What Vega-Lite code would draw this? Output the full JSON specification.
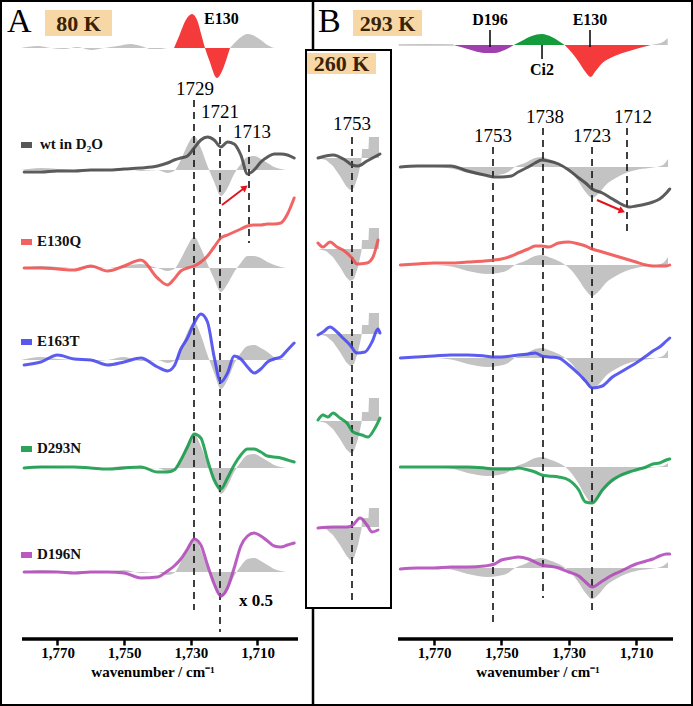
{
"$schema":"https://vega.github.io/schema/vega-lite/v6.json",
"width":693,"height":706,"autosize":"none","padding":0,"background":"white",
"config":{"view":{"stroke":"#000","strokeWidth":4}},
"datasets":{
"aLines":[
{"s":"wt","wn":1780,"v":-1.72},{"s":"wt","wn":1775,"v":-1.72},{"s":"wt","wn":1770,"v":-1.71},{"s":"wt","wn":1765,"v":-1.71},{"s":"wt","wn":1760,"v":-1.70},{"s":"wt","wn":1755,"v":-1.70},{"s":"wt","wn":1750,"v":-1.69},{"s":"wt","wn":1745,"v":-1.68},{"s":"wt","wn":1740,"v":-1.66},{"s":"wt","wn":1737,"v":-1.63},{"s":"wt","wn":1735,"v":-1.60},{"s":"wt","wn":1733,"v":-1.58},{"s":"wt","wn":1731,"v":-1.56},{"s":"wt","wn":1729,"v":-1.48},{"s":"wt","wn":1727,"v":-1.40},{"s":"wt","wn":1725,"v":-1.37},{"s":"wt","wn":1723,"v":-1.40},{"s":"wt","wn":1721,"v":-1.47},{"s":"wt","wn":1719,"v":-1.42},{"s":"wt","wn":1717,"v":-1.44},{"s":"wt","wn":1715,"v":-1.55},{"s":"wt","wn":1713,"v":-1.74},{"s":"wt","wn":1711,"v":-1.70},{"s":"wt","wn":1709,"v":-1.62},{"s":"wt","wn":1707,"v":-1.57},{"s":"wt","wn":1705,"v":-1.54},{"s":"wt","wn":1703,"v":-1.54},{"s":"wt","wn":1701,"v":-1.55},{"s":"wt","wn":1699,"v":-1.58},
{"s":"E130Q","wn":1780,"v":-2.68},{"s":"E130Q","wn":1775,"v":-2.68},{"s":"E130Q","wn":1770,"v":-2.69},{"s":"E130Q","wn":1765,"v":-2.70},{"s":"E130Q","wn":1760,"v":-2.66},{"s":"E130Q","wn":1755,"v":-2.71},{"s":"E130Q","wn":1750,"v":-2.66},{"s":"E130Q","wn":1745,"v":-2.60},{"s":"E130Q","wn":1740,"v":-2.78},{"s":"E130Q","wn":1737,"v":-2.85},{"s":"E130Q","wn":1735,"v":-2.79},{"s":"E130Q","wn":1733,"v":-2.71},{"s":"E130Q","wn":1731,"v":-2.68},{"s":"E130Q","wn":1729,"v":-2.66},{"s":"E130Q","wn":1727,"v":-2.62},{"s":"E130Q","wn":1725,"v":-2.56},{"s":"E130Q","wn":1723,"v":-2.47},{"s":"E130Q","wn":1721,"v":-2.38},{"s":"E130Q","wn":1719,"v":-2.35},{"s":"E130Q","wn":1717,"v":-2.32},{"s":"E130Q","wn":1715,"v":-2.29},{"s":"E130Q","wn":1713,"v":-2.26},{"s":"E130Q","wn":1711,"v":-2.25},{"s":"E130Q","wn":1709,"v":-2.25},{"s":"E130Q","wn":1707,"v":-2.24},{"s":"E130Q","wn":1705,"v":-2.24},{"s":"E130Q","wn":1703,"v":-2.23},{"s":"E130Q","wn":1701,"v":-2.14},{"s":"E130Q","wn":1699,"v":-1.98},
{"s":"E163T","wn":1780,"v":-3.65},{"s":"E163T","wn":1775,"v":-3.62},{"s":"E163T","wn":1770,"v":-3.55},{"s":"E163T","wn":1765,"v":-3.59},{"s":"E163T","wn":1760,"v":-3.60},{"s":"E163T","wn":1755,"v":-3.65},{"s":"E163T","wn":1750,"v":-3.62},{"s":"E163T","wn":1745,"v":-3.58},{"s":"E163T","wn":1740,"v":-3.67},{"s":"E163T","wn":1737,"v":-3.71},{"s":"E163T","wn":1735,"v":-3.66},{"s":"E163T","wn":1733,"v":-3.49},{"s":"E163T","wn":1731,"v":-3.38},{"s":"E163T","wn":1729,"v":-3.23},{"s":"E163T","wn":1727,"v":-3.14},{"s":"E163T","wn":1725,"v":-3.22},{"s":"E163T","wn":1723,"v":-3.57},{"s":"E163T","wn":1721,"v":-3.82},{"s":"E163T","wn":1719,"v":-3.73},{"s":"E163T","wn":1717,"v":-3.56},{"s":"E163T","wn":1715,"v":-3.59},{"s":"E163T","wn":1713,"v":-3.67},{"s":"E163T","wn":1711,"v":-3.73},{"s":"E163T","wn":1709,"v":-3.69},{"s":"E163T","wn":1707,"v":-3.62},{"s":"E163T","wn":1705,"v":-3.59},{"s":"E163T","wn":1703,"v":-3.57},{"s":"E163T","wn":1701,"v":-3.50},{"s":"E163T","wn":1699,"v":-3.43},
{"s":"D293N","wn":1780,"v":-4.68},{"s":"D293N","wn":1775,"v":-4.67},{"s":"D293N","wn":1770,"v":-4.67},{"s":"D293N","wn":1765,"v":-4.67},{"s":"D293N","wn":1760,"v":-4.68},{"s":"D293N","wn":1755,"v":-4.69},{"s":"D293N","wn":1750,"v":-4.68},{"s":"D293N","wn":1745,"v":-4.67},{"s":"D293N","wn":1740,"v":-4.72},{"s":"D293N","wn":1737,"v":-4.72},{"s":"D293N","wn":1735,"v":-4.70},{"s":"D293N","wn":1733,"v":-4.60},{"s":"D293N","wn":1731,"v":-4.47},{"s":"D293N","wn":1729,"v":-4.34},{"s":"D293N","wn":1727,"v":-4.38},{"s":"D293N","wn":1725,"v":-4.60},{"s":"D293N","wn":1723,"v":-4.80},{"s":"D293N","wn":1721,"v":-4.89},{"s":"D293N","wn":1719,"v":-4.78},{"s":"D293N","wn":1717,"v":-4.65},{"s":"D293N","wn":1715,"v":-4.55},{"s":"D293N","wn":1713,"v":-4.49},{"s":"D293N","wn":1711,"v":-4.49},{"s":"D293N","wn":1709,"v":-4.52},{"s":"D293N","wn":1707,"v":-4.56},{"s":"D293N","wn":1705,"v":-4.57},{"s":"D293N","wn":1703,"v":-4.58},{"s":"D293N","wn":1701,"v":-4.60},{"s":"D293N","wn":1699,"v":-4.62},
{"s":"D196N","wn":1780,"v":-5.72},{"s":"D196N","wn":1775,"v":-5.72},{"s":"D196N","wn":1770,"v":-5.72},{"s":"D196N","wn":1765,"v":-5.73},{"s":"D196N","wn":1760,"v":-5.72},{"s":"D196N","wn":1755,"v":-5.72},{"s":"D196N","wn":1750,"v":-5.73},{"s":"D196N","wn":1745,"v":-5.78},{"s":"D196N","wn":1740,"v":-5.77},{"s":"D196N","wn":1737,"v":-5.71},{"s":"D196N","wn":1735,"v":-5.66},{"s":"D196N","wn":1733,"v":-5.59},{"s":"D196N","wn":1731,"v":-5.49},{"s":"D196N","wn":1729,"v":-5.39},{"s":"D196N","wn":1727,"v":-5.45},{"s":"D196N","wn":1725,"v":-5.65},{"s":"D196N","wn":1723,"v":-5.84},{"s":"D196N","wn":1721,"v":-5.96},{"s":"D196N","wn":1719,"v":-5.88},{"s":"D196N","wn":1717,"v":-5.68},{"s":"D196N","wn":1715,"v":-5.46},{"s":"D196N","wn":1713,"v":-5.36},{"s":"D196N","wn":1711,"v":-5.33},{"s":"D196N","wn":1709,"v":-5.36},{"s":"D196N","wn":1707,"v":-5.41},{"s":"D196N","wn":1705,"v":-5.46},{"s":"D196N","wn":1703,"v":-5.47},{"s":"D196N","wn":1701,"v":-5.45},{"s":"D196N","wn":1699,"v":-5.43}
],
"aGray":[
{"s":"wt","wn":1781,"v":-1.70,"b":-1.70},{"s":"wt","wn":1775,"v":-1.68,"b":-1.70},{"s":"wt","wn":1770,"v":-1.69,"b":-1.70},{"s":"wt","wn":1765,"v":-1.70,"b":-1.70},{"s":"wt","wn":1760,"v":-1.71,"b":-1.70},{"s":"wt","wn":1755,"v":-1.70,"b":-1.70},{"s":"wt","wn":1750,"v":-1.68,"b":-1.70},{"s":"wt","wn":1745,"v":-1.71,"b":-1.70},{"s":"wt","wn":1740,"v":-1.70,"b":-1.70},{"s":"wt","wn":1737,"v":-1.73,"b":-1.70},{"s":"wt","wn":1735,"v":-1.71,"b":-1.70},{"s":"wt","wn":1733,"v":-1.60,"b":-1.70},{"s":"wt","wn":1731,"v":-1.45,"b":-1.70},{"s":"wt","wn":1729,"v":-1.36,"b":-1.70},{"s":"wt","wn":1727,"v":-1.48,"b":-1.70},{"s":"wt","wn":1725,"v":-1.66,"b":-1.70},{"s":"wt","wn":1723,"v":-1.82,"b":-1.70},{"s":"wt","wn":1721,"v":-1.96,"b":-1.70},{"s":"wt","wn":1719,"v":-1.88,"b":-1.70},{"s":"wt","wn":1717,"v":-1.74,"b":-1.70},{"s":"wt","wn":1715,"v":-1.64,"b":-1.70},{"s":"wt","wn":1713,"v":-1.57,"b":-1.70},{"s":"wt","wn":1711,"v":-1.56,"b":-1.70},{"s":"wt","wn":1709,"v":-1.59,"b":-1.70},{"s":"wt","wn":1707,"v":-1.63,"b":-1.70},{"s":"wt","wn":1705,"v":-1.67,"b":-1.70},{"s":"wt","wn":1703,"v":-1.69,"b":-1.70},{"s":"wt","wn":1701,"v":-1.70,"b":-1.70},{"s":"wt","wn":1699,"v":-1.70,"b":-1.70},
{"s":"E130Q","wn":1781,"v":-2.68,"b":-2.68},{"s":"E130Q","wn":1775,"v":-2.66,"b":-2.68},{"s":"E130Q","wn":1770,"v":-2.67,"b":-2.68},{"s":"E130Q","wn":1765,"v":-2.68,"b":-2.68},{"s":"E130Q","wn":1760,"v":-2.66,"b":-2.68},{"s":"E130Q","wn":1755,"v":-2.68,"b":-2.68},{"s":"E130Q","wn":1750,"v":-2.66,"b":-2.68},{"s":"E130Q","wn":1745,"v":-2.64,"b":-2.68},{"s":"E130Q","wn":1740,"v":-2.68,"b":-2.68},{"s":"E130Q","wn":1737,"v":-2.71,"b":-2.68},{"s":"E130Q","wn":1735,"v":-2.69,"b":-2.68},{"s":"E130Q","wn":1733,"v":-2.59,"b":-2.68},{"s":"E130Q","wn":1731,"v":-2.46,"b":-2.68},{"s":"E130Q","wn":1729,"v":-2.37,"b":-2.68},{"s":"E130Q","wn":1727,"v":-2.48,"b":-2.68},{"s":"E130Q","wn":1725,"v":-2.64,"b":-2.68},{"s":"E130Q","wn":1723,"v":-2.79,"b":-2.68},{"s":"E130Q","wn":1721,"v":-2.92,"b":-2.68},{"s":"E130Q","wn":1719,"v":-2.84,"b":-2.68},{"s":"E130Q","wn":1717,"v":-2.72,"b":-2.68},{"s":"E130Q","wn":1715,"v":-2.63,"b":-2.68},{"s":"E130Q","wn":1713,"v":-2.56,"b":-2.68},{"s":"E130Q","wn":1711,"v":-2.56,"b":-2.68},{"s":"E130Q","wn":1709,"v":-2.58,"b":-2.68},{"s":"E130Q","wn":1707,"v":-2.62,"b":-2.68},{"s":"E130Q","wn":1705,"v":-2.65,"b":-2.68},{"s":"E130Q","wn":1703,"v":-2.67,"b":-2.68},{"s":"E130Q","wn":1701,"v":-2.68,"b":-2.68},{"s":"E130Q","wn":1699,"v":-2.68,"b":-2.68},
{"s":"E163T","wn":1781,"v":-3.60,"b":-3.60},{"s":"E163T","wn":1775,"v":-3.57,"b":-3.60},{"s":"E163T","wn":1770,"v":-3.59,"b":-3.60},{"s":"E163T","wn":1765,"v":-3.60,"b":-3.60},{"s":"E163T","wn":1760,"v":-3.61,"b":-3.60},{"s":"E163T","wn":1755,"v":-3.60,"b":-3.60},{"s":"E163T","wn":1750,"v":-3.57,"b":-3.60},{"s":"E163T","wn":1745,"v":-3.61,"b":-3.60},{"s":"E163T","wn":1740,"v":-3.60,"b":-3.60},{"s":"E163T","wn":1737,"v":-3.63,"b":-3.60},{"s":"E163T","wn":1735,"v":-3.61,"b":-3.60},{"s":"E163T","wn":1733,"v":-3.49,"b":-3.60},{"s":"E163T","wn":1731,"v":-3.32,"b":-3.60},{"s":"E163T","wn":1729,"v":-3.22,"b":-3.60},{"s":"E163T","wn":1727,"v":-3.35,"b":-3.60},{"s":"E163T","wn":1725,"v":-3.55,"b":-3.60},{"s":"E163T","wn":1723,"v":-3.73,"b":-3.60},{"s":"E163T","wn":1721,"v":-3.89,"b":-3.60},{"s":"E163T","wn":1719,"v":-3.80,"b":-3.60},{"s":"E163T","wn":1717,"v":-3.64,"b":-3.60},{"s":"E163T","wn":1715,"v":-3.53,"b":-3.60},{"s":"E163T","wn":1713,"v":-3.46,"b":-3.60},{"s":"E163T","wn":1711,"v":-3.45,"b":-3.60},{"s":"E163T","wn":1709,"v":-3.48,"b":-3.60},{"s":"E163T","wn":1707,"v":-3.52,"b":-3.60},{"s":"E163T","wn":1705,"v":-3.57,"b":-3.60},{"s":"E163T","wn":1703,"v":-3.59,"b":-3.60},{"s":"E163T","wn":1701,"v":-3.60,"b":-3.60},{"s":"E163T","wn":1699,"v":-3.60,"b":-3.60},
{"s":"D293N","wn":1781,"v":-4.68,"b":-4.68},{"s":"D293N","wn":1775,"v":-4.66,"b":-4.68},{"s":"D293N","wn":1770,"v":-4.67,"b":-4.68},{"s":"D293N","wn":1765,"v":-4.68,"b":-4.68},{"s":"D293N","wn":1760,"v":-4.69,"b":-4.68},{"s":"D293N","wn":1755,"v":-4.68,"b":-4.68},{"s":"D293N","wn":1750,"v":-4.66,"b":-4.68},{"s":"D293N","wn":1745,"v":-4.69,"b":-4.68},{"s":"D293N","wn":1740,"v":-4.68,"b":-4.68},{"s":"D293N","wn":1737,"v":-4.71,"b":-4.68},{"s":"D293N","wn":1735,"v":-4.69,"b":-4.68},{"s":"D293N","wn":1733,"v":-4.58,"b":-4.68},{"s":"D293N","wn":1731,"v":-4.43,"b":-4.68},{"s":"D293N","wn":1729,"v":-4.34,"b":-4.68},{"s":"D293N","wn":1727,"v":-4.46,"b":-4.68},{"s":"D293N","wn":1725,"v":-4.64,"b":-4.68},{"s":"D293N","wn":1723,"v":-4.80,"b":-4.68},{"s":"D293N","wn":1721,"v":-4.94,"b":-4.68},{"s":"D293N","wn":1719,"v":-4.86,"b":-4.68},{"s":"D293N","wn":1717,"v":-4.72,"b":-4.68},{"s":"D293N","wn":1715,"v":-4.62,"b":-4.68},{"s":"D293N","wn":1713,"v":-4.55,"b":-4.68},{"s":"D293N","wn":1711,"v":-4.54,"b":-4.68},{"s":"D293N","wn":1709,"v":-4.57,"b":-4.68},{"s":"D293N","wn":1707,"v":-4.61,"b":-4.68},{"s":"D293N","wn":1705,"v":-4.65,"b":-4.68},{"s":"D293N","wn":1703,"v":-4.67,"b":-4.68},{"s":"D293N","wn":1701,"v":-4.68,"b":-4.68},{"s":"D293N","wn":1699,"v":-4.68,"b":-4.68},
{"s":"D196N","wn":1781,"v":-5.72,"b":-5.72},{"s":"D196N","wn":1775,"v":-5.70,"b":-5.72},{"s":"D196N","wn":1770,"v":-5.71,"b":-5.72},{"s":"D196N","wn":1765,"v":-5.72,"b":-5.72},{"s":"D196N","wn":1760,"v":-5.73,"b":-5.72},{"s":"D196N","wn":1755,"v":-5.72,"b":-5.72},{"s":"D196N","wn":1750,"v":-5.70,"b":-5.72},{"s":"D196N","wn":1745,"v":-5.73,"b":-5.72},{"s":"D196N","wn":1740,"v":-5.72,"b":-5.72},{"s":"D196N","wn":1737,"v":-5.75,"b":-5.72},{"s":"D196N","wn":1735,"v":-5.73,"b":-5.72},{"s":"D196N","wn":1733,"v":-5.62,"b":-5.72},{"s":"D196N","wn":1731,"v":-5.47,"b":-5.72},{"s":"D196N","wn":1729,"v":-5.38,"b":-5.72},{"s":"D196N","wn":1727,"v":-5.50,"b":-5.72},{"s":"D196N","wn":1725,"v":-5.68,"b":-5.72},{"s":"D196N","wn":1723,"v":-5.84,"b":-5.72},{"s":"D196N","wn":1721,"v":-5.98,"b":-5.72},{"s":"D196N","wn":1719,"v":-5.90,"b":-5.72},{"s":"D196N","wn":1717,"v":-5.76,"b":-5.72},{"s":"D196N","wn":1715,"v":-5.66,"b":-5.72},{"s":"D196N","wn":1713,"v":-5.59,"b":-5.72},{"s":"D196N","wn":1711,"v":-5.58,"b":-5.72},{"s":"D196N","wn":1709,"v":-5.61,"b":-5.72},{"s":"D196N","wn":1707,"v":-5.65,"b":-5.72},{"s":"D196N","wn":1705,"v":-5.69,"b":-5.72},{"s":"D196N","wn":1703,"v":-5.71,"b":-5.72},{"s":"D196N","wn":1701,"v":-5.72,"b":-5.72},{"s":"D196N","wn":1699,"v":-5.72,"b":-5.72},
{"s":"refL","wn":1781,"v":-0.48,"b":-0.48},{"s":"refL","wn":1776,"v":-0.46,"b":-0.48},{"s":"refL","wn":1772,"v":-0.48,"b":-0.48},{"s":"refL","wn":1768,"v":-0.49,"b":-0.48},{"s":"refL","wn":1764,"v":-0.47,"b":-0.48},{"s":"refL","wn":1760,"v":-0.50,"b":-0.48},{"s":"refL","wn":1756,"v":-0.48,"b":-0.48},{"s":"refL","wn":1752,"v":-0.46,"b":-0.48},{"s":"refL","wn":1748,"v":-0.44,"b":-0.48},{"s":"refL","wn":1745,"v":-0.46,"b":-0.48},{"s":"refL","wn":1742,"v":-0.49,"b":-0.48},{"s":"refL","wn":1739,"v":-0.49,"b":-0.48},{"s":"refL","wn":1737,"v":-0.48,"b":-0.48},{"s":"refL","wn":1735.05,"v":-0.48,"b":-0.48},
{"s":"refR","wn":1718.25,"v":-0.48,"b":-0.48},{"s":"refR","wn":1716,"v":-0.40,"b":-0.48},{"s":"refR","wn":1714,"v":-0.35,"b":-0.48},{"s":"refR","wn":1713,"v":-0.34,"b":-0.48},{"s":"refR","wn":1711.5,"v":-0.35,"b":-0.48},{"s":"refR","wn":1709,"v":-0.40,"b":-0.48},{"s":"refR","wn":1707,"v":-0.45,"b":-0.48},{"s":"refR","wn":1704.75,"v":-0.48,"b":-0.48},{"s":"refR","wn":1699,"v":-0.48,"b":-0.48}
],
"aRed":[
{"wn":1735.05,"v":-0.48,"b":-0.48},{"wn":1733.5,"v":-0.36,"b":-0.48},{"wn":1731.5,"v":-0.20,"b":-0.48},{"wn":1729.65,"v":-0.14,"b":-0.48},{"wn":1728,"v":-0.21,"b":-0.48},{"wn":1726.75,"v":-0.36,"b":-0.48},{"wn":1725.75,"v":-0.48,"b":-0.48},{"wn":1724.5,"v":-0.60,"b":-0.48},{"wn":1722.15,"v":-0.78,"b":-0.48},{"wn":1720.5,"v":-0.70,"b":-0.48},{"wn":1719.2,"v":-0.58,"b":-0.48},{"wn":1718.25,"v":-0.48,"b":-0.48}
],
"aDash":[{"wn":1729.05,"v":-1.00,"v2":-6.10},{"wn":1721.25,"v":-1.25,"v2":-6.32},{"wn":1712.55,"v":-1.45,"v2":-2.43}],
"aSep":[{"wn":1693.35,"v":0,"v2":-7.06}],
"aAxis":[{"wn":1780.65,"wn2":1697.85,"v":-6.39}],
"aBox":[{"wn":1773.75,"wn2":1753.65,"v":-0.10,"v2":-0.36}],
"aLeg":[{"s":"wt","wn":1780.95,"wn2":1777.65,"v":-1.42,"v2":-1.48},{"s":"E130Q","wn":1780.95,"wn2":1777.65,"v":-2.39,"v2":-2.45},{"s":"E163T","wn":1780.95,"wn2":1777.65,"v":-3.39,"v2":-3.45},{"s":"D293N","wn":1780.95,"wn2":1777.65,"v":-4.46,"v2":-4.52},{"s":"D196N","wn":1780.95,"wn2":1777.65,"v":-5.52,"v2":-5.58}],
"aLegText":[{"t":"wt in D₂O","wn":1775.25,"v":-1.49},{"t":"E130Q","wn":1776.15,"v":-2.46},{"t":"E163T","wn":1776.15,"v":-3.46},{"t":"D293N","wn":1776.15,"v":-4.53},{"t":"D196N","wn":1776.15,"v":-5.59}],
"aArrow":[{"wn":1720.65,"v":-2.05,"wn2":1714.35,"v2":-1.89}],
"aHead":[{"wn":1713.75,"v":-1.875}],
"aBig":[{"t":"A","wn":1785.15,"v":-0.32}],
"aTemp":[{"t":"80 K","wn":1763.7,"v":-0.31}],
"aE130":[{"t":"E130","wn":1726.05,"v":-0.24}],
"aPeak":[{"t":"1729","wn":1728.75,"v":-0.95},{"t":"1721","wn":1721.25,"v":-1.18},{"t":"1713","wn":1711.65,"v":-1.38}],
"aScale":[{"t":"x 0.5","wn":1710.45,"v":-6.06}],
"aNote":[{"t":"wavenumber / cm⁻¹","wn":1741.35,"v":-6.77}],
"bLines":[
{"s":"wt","wn":1780,"v":-1.67},{"s":"wt","wn":1775,"v":-1.66},{"s":"wt","wn":1770,"v":-1.66},{"s":"wt","wn":1765,"v":-1.66},{"s":"wt","wn":1760,"v":-1.71},{"s":"wt","wn":1755,"v":-1.75},{"s":"wt","wn":1752,"v":-1.77},{"s":"wt","wn":1750,"v":-1.77},{"s":"wt","wn":1747,"v":-1.76},{"s":"wt","wn":1745,"v":-1.72},{"s":"wt","wn":1742,"v":-1.67},{"s":"wt","wn":1740,"v":-1.63},{"s":"wt","wn":1738,"v":-1.60},{"s":"wt","wn":1736,"v":-1.61},{"s":"wt","wn":1733,"v":-1.64},{"s":"wt","wn":1730,"v":-1.70},{"s":"wt","wn":1727,"v":-1.78},{"s":"wt","wn":1725,"v":-1.83},{"s":"wt","wn":1723,"v":-1.89},{"s":"wt","wn":1720,"v":-1.93},{"s":"wt","wn":1717,"v":-1.99},{"s":"wt","wn":1715,"v":-2.03},{"s":"wt","wn":1712,"v":-2.07},{"s":"wt","wn":1710,"v":-2.06},{"s":"wt","wn":1707,"v":-2.04},{"s":"wt","wn":1705,"v":-2.02},{"s":"wt","wn":1703,"v":-1.99},{"s":"wt","wn":1701,"v":-1.93},{"s":"wt","wn":1700,"v":-1.89},
{"s":"E130Q","wn":1780,"v":-2.65},{"s":"E130Q","wn":1775,"v":-2.64},{"s":"E130Q","wn":1770,"v":-2.63},{"s":"E130Q","wn":1765,"v":-2.63},{"s":"E130Q","wn":1760,"v":-2.62},{"s":"E130Q","wn":1755,"v":-2.61},{"s":"E130Q","wn":1752,"v":-2.60},{"s":"E130Q","wn":1750,"v":-2.59},{"s":"E130Q","wn":1747,"v":-2.56},{"s":"E130Q","wn":1745,"v":-2.53},{"s":"E130Q","wn":1742,"v":-2.49},{"s":"E130Q","wn":1740,"v":-2.46},{"s":"E130Q","wn":1738,"v":-2.46},{"s":"E130Q","wn":1736,"v":-2.47},{"s":"E130Q","wn":1733,"v":-2.43},{"s":"E130Q","wn":1730,"v":-2.42},{"s":"E130Q","wn":1727,"v":-2.44},{"s":"E130Q","wn":1725,"v":-2.46},{"s":"E130Q","wn":1723,"v":-2.49},{"s":"E130Q","wn":1720,"v":-2.52},{"s":"E130Q","wn":1717,"v":-2.55},{"s":"E130Q","wn":1715,"v":-2.57},{"s":"E130Q","wn":1712,"v":-2.60},{"s":"E130Q","wn":1710,"v":-2.62},{"s":"E130Q","wn":1707,"v":-2.65},{"s":"E130Q","wn":1705,"v":-2.66},{"s":"E130Q","wn":1703,"v":-2.66},{"s":"E130Q","wn":1701,"v":-2.66},{"s":"E130Q","wn":1700,"v":-2.65},
{"s":"E163T","wn":1780,"v":-3.58},{"s":"E163T","wn":1775,"v":-3.57},{"s":"E163T","wn":1770,"v":-3.56},{"s":"E163T","wn":1765,"v":-3.55},{"s":"E163T","wn":1760,"v":-3.55},{"s":"E163T","wn":1755,"v":-3.56},{"s":"E163T","wn":1752,"v":-3.57},{"s":"E163T","wn":1750,"v":-3.57},{"s":"E163T","wn":1747,"v":-3.56},{"s":"E163T","wn":1745,"v":-3.55},{"s":"E163T","wn":1742,"v":-3.54},{"s":"E163T","wn":1740,"v":-3.53},{"s":"E163T","wn":1738,"v":-3.56},{"s":"E163T","wn":1736,"v":-3.57},{"s":"E163T","wn":1733,"v":-3.58},{"s":"E163T","wn":1730,"v":-3.65},{"s":"E163T","wn":1727,"v":-3.74},{"s":"E163T","wn":1725,"v":-3.81},{"s":"E163T","wn":1723,"v":-3.88},{"s":"E163T","wn":1720,"v":-3.86},{"s":"E163T","wn":1717,"v":-3.77},{"s":"E163T","wn":1715,"v":-3.73},{"s":"E163T","wn":1712,"v":-3.67},{"s":"E163T","wn":1710,"v":-3.63},{"s":"E163T","wn":1707,"v":-3.56},{"s":"E163T","wn":1705,"v":-3.51},{"s":"E163T","wn":1703,"v":-3.47},{"s":"E163T","wn":1701,"v":-3.41},{"s":"E163T","wn":1700,"v":-3.38},
{"s":"D293N","wn":1780,"v":-4.67},{"s":"D293N","wn":1775,"v":-4.67},{"s":"D293N","wn":1770,"v":-4.67},{"s":"D293N","wn":1765,"v":-4.67},{"s":"D293N","wn":1760,"v":-4.67},{"s":"D293N","wn":1755,"v":-4.68},{"s":"D293N","wn":1752,"v":-4.69},{"s":"D293N","wn":1750,"v":-4.69},{"s":"D293N","wn":1747,"v":-4.69},{"s":"D293N","wn":1745,"v":-4.68},{"s":"D293N","wn":1742,"v":-4.70},{"s":"D293N","wn":1740,"v":-4.72},{"s":"D293N","wn":1738,"v":-4.75},{"s":"D293N","wn":1736,"v":-4.76},{"s":"D293N","wn":1733,"v":-4.77},{"s":"D293N","wn":1730,"v":-4.80},{"s":"D293N","wn":1727,"v":-4.90},{"s":"D293N","wn":1725,"v":-5.02},{"s":"D293N","wn":1723,"v":-5.03},{"s":"D293N","wn":1720,"v":-4.90},{"s":"D293N","wn":1717,"v":-4.80},{"s":"D293N","wn":1715,"v":-4.76},{"s":"D293N","wn":1712,"v":-4.72},{"s":"D293N","wn":1710,"v":-4.70},{"s":"D293N","wn":1707,"v":-4.67},{"s":"D293N","wn":1705,"v":-4.64},{"s":"D293N","wn":1703,"v":-4.63},{"s":"D293N","wn":1701,"v":-4.60},{"s":"D293N","wn":1700,"v":-4.59},
{"s":"D196N","wn":1780,"v":-5.69},{"s":"D196N","wn":1775,"v":-5.68},{"s":"D196N","wn":1770,"v":-5.68},{"s":"D196N","wn":1765,"v":-5.67},{"s":"D196N","wn":1760,"v":-5.67},{"s":"D196N","wn":1755,"v":-5.66},{"s":"D196N","wn":1752,"v":-5.64},{"s":"D196N","wn":1750,"v":-5.60},{"s":"D196N","wn":1747,"v":-5.58},{"s":"D196N","wn":1745,"v":-5.57},{"s":"D196N","wn":1742,"v":-5.59},{"s":"D196N","wn":1740,"v":-5.62},{"s":"D196N","wn":1738,"v":-5.65},{"s":"D196N","wn":1736,"v":-5.66},{"s":"D196N","wn":1733,"v":-5.68},{"s":"D196N","wn":1730,"v":-5.72},{"s":"D196N","wn":1727,"v":-5.76},{"s":"D196N","wn":1725,"v":-5.82},{"s":"D196N","wn":1723,"v":-5.87},{"s":"D196N","wn":1720,"v":-5.81},{"s":"D196N","wn":1717,"v":-5.75},{"s":"D196N","wn":1715,"v":-5.72},{"s":"D196N","wn":1712,"v":-5.67},{"s":"D196N","wn":1710,"v":-5.64},{"s":"D196N","wn":1707,"v":-5.61},{"s":"D196N","wn":1705,"v":-5.59},{"s":"D196N","wn":1703,"v":-5.56},{"s":"D196N","wn":1701,"v":-5.54},{"s":"D196N","wn":1700,"v":-5.54}
],
"bGray":[
{"s":"wt","wn":1780.5,"v":-1.67,"b":-1.67},{"s":"wt","wn":1770,"v":-1.67,"b":-1.67},{"s":"wt","wn":1766,"v":-1.68,"b":-1.67},{"s":"wt","wn":1763,"v":-1.70,"b":-1.67},{"s":"wt","wn":1760,"v":-1.73,"b":-1.67},{"s":"wt","wn":1757,"v":-1.75,"b":-1.67},{"s":"wt","wn":1754,"v":-1.76,"b":-1.67},{"s":"wt","wn":1751,"v":-1.75,"b":-1.67},{"s":"wt","wn":1748,"v":-1.72,"b":-1.67},{"s":"wt","wn":1746,"v":-1.67,"b":-1.67},{"s":"wt","wn":1743,"v":-1.63,"b":-1.67},{"s":"wt","wn":1740,"v":-1.58,"b":-1.67},{"s":"wt","wn":1738,"v":-1.57,"b":-1.67},{"s":"wt","wn":1736,"v":-1.59,"b":-1.67},{"s":"wt","wn":1733,"v":-1.63,"b":-1.67},{"s":"wt","wn":1731,"v":-1.67,"b":-1.67},{"s":"wt","wn":1729,"v":-1.73,"b":-1.67},{"s":"wt","wn":1727,"v":-1.82,"b":-1.67},{"s":"wt","wn":1725,"v":-1.92,"b":-1.67},{"s":"wt","wn":1723,"v":-1.98,"b":-1.67},{"s":"wt","wn":1721,"v":-1.93,"b":-1.67},{"s":"wt","wn":1719,"v":-1.85,"b":-1.67},{"s":"wt","wn":1716,"v":-1.78,"b":-1.67},{"s":"wt","wn":1713,"v":-1.73,"b":-1.67},{"s":"wt","wn":1710,"v":-1.70,"b":-1.67},{"s":"wt","wn":1706,"v":-1.68,"b":-1.67},{"s":"wt","wn":1704,"v":-1.67,"b":-1.67},{"s":"wt","wn":1702,"v":-1.65,"b":-1.67},{"s":"wt","wn":1700.5,"v":-1.59,"b":-1.67},
{"s":"E130Q","wn":1780.5,"v":-2.65,"b":-2.65},{"s":"E130Q","wn":1770,"v":-2.65,"b":-2.65},{"s":"E130Q","wn":1766,"v":-2.66,"b":-2.65},{"s":"E130Q","wn":1763,"v":-2.68,"b":-2.65},{"s":"E130Q","wn":1760,"v":-2.71,"b":-2.65},{"s":"E130Q","wn":1757,"v":-2.73,"b":-2.65},{"s":"E130Q","wn":1754,"v":-2.74,"b":-2.65},{"s":"E130Q","wn":1751,"v":-2.73,"b":-2.65},{"s":"E130Q","wn":1748,"v":-2.70,"b":-2.65},{"s":"E130Q","wn":1746,"v":-2.65,"b":-2.65},{"s":"E130Q","wn":1743,"v":-2.61,"b":-2.65},{"s":"E130Q","wn":1740,"v":-2.56,"b":-2.65},{"s":"E130Q","wn":1738,"v":-2.55,"b":-2.65},{"s":"E130Q","wn":1736,"v":-2.57,"b":-2.65},{"s":"E130Q","wn":1733,"v":-2.61,"b":-2.65},{"s":"E130Q","wn":1731,"v":-2.65,"b":-2.65},{"s":"E130Q","wn":1729,"v":-2.71,"b":-2.65},{"s":"E130Q","wn":1727,"v":-2.80,"b":-2.65},{"s":"E130Q","wn":1725,"v":-2.90,"b":-2.65},{"s":"E130Q","wn":1723,"v":-2.96,"b":-2.65},{"s":"E130Q","wn":1721,"v":-2.91,"b":-2.65},{"s":"E130Q","wn":1719,"v":-2.83,"b":-2.65},{"s":"E130Q","wn":1716,"v":-2.76,"b":-2.65},{"s":"E130Q","wn":1713,"v":-2.71,"b":-2.65},{"s":"E130Q","wn":1710,"v":-2.68,"b":-2.65},{"s":"E130Q","wn":1706,"v":-2.66,"b":-2.65},{"s":"E130Q","wn":1704,"v":-2.65,"b":-2.65},{"s":"E130Q","wn":1702,"v":-2.63,"b":-2.65},{"s":"E130Q","wn":1700.5,"v":-2.57,"b":-2.65},
{"s":"E163T","wn":1780.5,"v":-3.58,"b":-3.58},{"s":"E163T","wn":1770,"v":-3.58,"b":-3.58},{"s":"E163T","wn":1766,"v":-3.59,"b":-3.58},{"s":"E163T","wn":1763,"v":-3.61,"b":-3.58},{"s":"E163T","wn":1760,"v":-3.64,"b":-3.58},{"s":"E163T","wn":1757,"v":-3.66,"b":-3.58},{"s":"E163T","wn":1754,"v":-3.67,"b":-3.58},{"s":"E163T","wn":1751,"v":-3.66,"b":-3.58},{"s":"E163T","wn":1748,"v":-3.63,"b":-3.58},{"s":"E163T","wn":1746,"v":-3.58,"b":-3.58},{"s":"E163T","wn":1743,"v":-3.54,"b":-3.58},{"s":"E163T","wn":1740,"v":-3.49,"b":-3.58},{"s":"E163T","wn":1738,"v":-3.48,"b":-3.58},{"s":"E163T","wn":1736,"v":-3.50,"b":-3.58},{"s":"E163T","wn":1733,"v":-3.54,"b":-3.58},{"s":"E163T","wn":1731,"v":-3.58,"b":-3.58},{"s":"E163T","wn":1729,"v":-3.64,"b":-3.58},{"s":"E163T","wn":1727,"v":-3.73,"b":-3.58},{"s":"E163T","wn":1725,"v":-3.83,"b":-3.58},{"s":"E163T","wn":1723,"v":-3.89,"b":-3.58},{"s":"E163T","wn":1721,"v":-3.84,"b":-3.58},{"s":"E163T","wn":1719,"v":-3.76,"b":-3.58},{"s":"E163T","wn":1716,"v":-3.69,"b":-3.58},{"s":"E163T","wn":1713,"v":-3.64,"b":-3.58},{"s":"E163T","wn":1710,"v":-3.61,"b":-3.58},{"s":"E163T","wn":1706,"v":-3.59,"b":-3.58},{"s":"E163T","wn":1704,"v":-3.58,"b":-3.58},{"s":"E163T","wn":1702,"v":-3.56,"b":-3.58},{"s":"E163T","wn":1700.5,"v":-3.50,"b":-3.58},
{"s":"D293N","wn":1780.5,"v":-4.67,"b":-4.67},{"s":"D293N","wn":1770,"v":-4.67,"b":-4.67},{"s":"D293N","wn":1766,"v":-4.68,"b":-4.67},{"s":"D293N","wn":1763,"v":-4.70,"b":-4.67},{"s":"D293N","wn":1760,"v":-4.73,"b":-4.67},{"s":"D293N","wn":1757,"v":-4.75,"b":-4.67},{"s":"D293N","wn":1754,"v":-4.76,"b":-4.67},{"s":"D293N","wn":1751,"v":-4.75,"b":-4.67},{"s":"D293N","wn":1748,"v":-4.72,"b":-4.67},{"s":"D293N","wn":1746,"v":-4.67,"b":-4.67},{"s":"D293N","wn":1743,"v":-4.63,"b":-4.67},{"s":"D293N","wn":1740,"v":-4.58,"b":-4.67},{"s":"D293N","wn":1738,"v":-4.57,"b":-4.67},{"s":"D293N","wn":1736,"v":-4.59,"b":-4.67},{"s":"D293N","wn":1733,"v":-4.63,"b":-4.67},{"s":"D293N","wn":1731,"v":-4.67,"b":-4.67},{"s":"D293N","wn":1729,"v":-4.74,"b":-4.67},{"s":"D293N","wn":1727,"v":-4.84,"b":-4.67},{"s":"D293N","wn":1725,"v":-4.96,"b":-4.67},{"s":"D293N","wn":1723,"v":-5.03,"b":-4.67},{"s":"D293N","wn":1721,"v":-4.97,"b":-4.67},{"s":"D293N","wn":1719,"v":-4.88,"b":-4.67},{"s":"D293N","wn":1716,"v":-4.80,"b":-4.67},{"s":"D293N","wn":1713,"v":-4.74,"b":-4.67},{"s":"D293N","wn":1710,"v":-4.70,"b":-4.67},{"s":"D293N","wn":1706,"v":-4.68,"b":-4.67},{"s":"D293N","wn":1704,"v":-4.67,"b":-4.67},{"s":"D293N","wn":1702,"v":-4.66,"b":-4.67},{"s":"D293N","wn":1700.5,"v":-4.63,"b":-4.67},
{"s":"D196N","wn":1780.5,"v":-5.68,"b":-5.68},{"s":"D196N","wn":1770,"v":-5.68,"b":-5.68},{"s":"D196N","wn":1766,"v":-5.69,"b":-5.68},{"s":"D196N","wn":1763,"v":-5.71,"b":-5.68},{"s":"D196N","wn":1760,"v":-5.74,"b":-5.68},{"s":"D196N","wn":1757,"v":-5.76,"b":-5.68},{"s":"D196N","wn":1754,"v":-5.77,"b":-5.68},{"s":"D196N","wn":1751,"v":-5.76,"b":-5.68},{"s":"D196N","wn":1748,"v":-5.73,"b":-5.68},{"s":"D196N","wn":1746,"v":-5.68,"b":-5.68},{"s":"D196N","wn":1743,"v":-5.64,"b":-5.68},{"s":"D196N","wn":1740,"v":-5.59,"b":-5.68},{"s":"D196N","wn":1738,"v":-5.58,"b":-5.68},{"s":"D196N","wn":1736,"v":-5.60,"b":-5.68},{"s":"D196N","wn":1733,"v":-5.64,"b":-5.68},{"s":"D196N","wn":1731,"v":-5.68,"b":-5.68},{"s":"D196N","wn":1729,"v":-5.74,"b":-5.68},{"s":"D196N","wn":1727,"v":-5.83,"b":-5.68},{"s":"D196N","wn":1725,"v":-5.93,"b":-5.68},{"s":"D196N","wn":1723,"v":-5.99,"b":-5.68},{"s":"D196N","wn":1721,"v":-5.94,"b":-5.68},{"s":"D196N","wn":1719,"v":-5.86,"b":-5.68},{"s":"D196N","wn":1716,"v":-5.79,"b":-5.68},{"s":"D196N","wn":1713,"v":-5.74,"b":-5.68},{"s":"D196N","wn":1710,"v":-5.71,"b":-5.68},{"s":"D196N","wn":1706,"v":-5.69,"b":-5.68},{"s":"D196N","wn":1704,"v":-5.68,"b":-5.68},{"s":"D196N","wn":1702,"v":-5.66,"b":-5.68},{"s":"D196N","wn":1700.5,"v":-5.62,"b":-5.68},
{"s":"refL","wn":1780.5,"v":-0.45,"b":-0.45},{"s":"refL","wn":1772,"v":-0.44,"b":-0.45},{"s":"refL","wn":1764.2,"v":-0.45,"b":-0.45},
{"s":"refR","wn":1705.6,"v":-0.45,"b":-0.45},{"s":"refR","wn":1704,"v":-0.44,"b":-0.45},{"s":"refR","wn":1702,"v":-0.42,"b":-0.45},{"s":"refR","wn":1700.6,"v":-0.38,"b":-0.45}
],
"bBase":[{"wn":1780.5,"wn2":1764.2,"v":-0.45}],
"bPurple":[{"wn":1764.2,"v":-0.45,"b":-0.45},{"wn":1761,"v":-0.48,"b":-0.45},{"wn":1758,"v":-0.51,"b":-0.45},{"wn":1755,"v":-0.53,"b":-0.45},{"wn":1752,"v":-0.53,"b":-0.45},{"wn":1749,"v":-0.50,"b":-0.45},{"wn":1746.3,"v":-0.45,"b":-0.45}],
"bGreen":[{"wn":1746.3,"v":-0.45,"b":-0.45},{"wn":1744,"v":-0.41,"b":-0.45},{"wn":1741,"v":-0.36,"b":-0.45},{"wn":1738,"v":-0.34,"b":-0.45},{"wn":1735,"v":-0.37,"b":-0.45},{"wn":1733,"v":-0.41,"b":-0.45},{"wn":1731.2,"v":-0.45,"b":-0.45}],
"bRed":[{"wn":1731.2,"v":-0.45,"b":-0.45},{"wn":1729,"v":-0.53,"b":-0.45},{"wn":1727,"v":-0.62,"b":-0.45},{"wn":1725,"v":-0.72,"b":-0.45},{"wn":1723.5,"v":-0.77,"b":-0.45},{"wn":1722,"v":-0.71,"b":-0.45},{"wn":1720,"v":-0.63,"b":-0.45},{"wn":1717,"v":-0.57,"b":-0.45},{"wn":1713,"v":-0.52,"b":-0.45},{"wn":1709,"v":-0.48,"b":-0.45},{"wn":1705.6,"v":-0.45,"b":-0.45}],
"bDash":[{"wn":1752.48,"v":-1.47,"v2":-6.22},{"wn":1737.63,"v":-1.28,"v2":-5.98},{"wn":1723.07,"v":-1.47,"v2":-6.12},{"wn":1712.68,"v":-1.28,"v2":-2.35}],
"bTicks":[{"wn":1753.37,"v":-0.30,"v2":-0.47},{"wn":1723.67,"v":-0.30,"v2":-0.47},{"wn":1737.92,"v":-0.45,"v2":-0.59}],
"bAxis":[{"wn":1780.69,"wn2":1699.02,"v":-6.39}],
"bBox":[{"wn":1794.06,"wn2":1773.56,"v":-0.10,"v2":-0.36}],
"bArrow":[{"wn":1721.59,"v":-2.00,"wn2":1714.76,"v2":-2.10}],
"bHead":[{"wn":1714.17,"v":-2.11}],
"bBig":[{"t":"B","wn":1804.45,"v":-0.32}],
"bTemp":[{"t":"293 K","wn":1783.81,"v":-0.31}],
"bRef":[{"t":"D196","wn":1753.37,"v":-0.25},{"t":"E130","wn":1723.67,"v":-0.25},{"t":"Ci2","wn":1737.92,"v":-0.75}],
"bPeak":[{"t":"1753","wn":1752.48,"v":-1.42},{"t":"1738","wn":1737.03,"v":-1.23},{"t":"1723","wn":1723.07,"v":-1.42},{"t":"1712","wn":1710.9,"v":-1.23}],
"bNote":[{"t":"wavenumber / cm⁻¹","wn":1739.11,"v":-6.77}],
"mBox":[{"wn":1766.8,"wn2":1741.3,"v":-0.50,"v2":-6.08}],
"mHi":[{"wn":1766.5,"wn2":1745.8,"v":-0.53,"v2":-0.74}],
"mGray":[
{"s":"wt","wn":1763.2,"v":-1.58,"b":-1.58},{"s":"wt","wn":1760.8,"v":-1.60,"b":-1.58},{"s":"wt","wn":1758.7,"v":-1.66,"b":-1.58},{"s":"wt","wn":1756.6,"v":-1.76,"b":-1.58},{"s":"wt","wn":1754.8,"v":-1.86,"b":-1.58},{"s":"wt","wn":1753.6,"v":-1.90,"b":-1.58},{"s":"wt","wn":1752.4,"v":-1.88,"b":-1.58},{"s":"wt","wn":1751.2,"v":-1.76,"b":-1.58},{"s":"wt","wn":1750.15,"v":-1.60,"b":-1.58},{"s":"wt","wn":1750.0,"v":-1.49,"b":-1.58},{"s":"wt","wn":1748.05,"v":-1.49,"b":-1.58},{"s":"wt","wn":1747.9,"v":-1.37,"b":-1.58},{"s":"wt","wn":1744.9,"v":-1.37,"b":-1.58},
{"s":"E130Q","wn":1763.2,"v":-2.49,"b":-2.49},{"s":"E130Q","wn":1760.8,"v":-2.51,"b":-2.49},{"s":"E130Q","wn":1758.7,"v":-2.57,"b":-2.49},{"s":"E130Q","wn":1756.6,"v":-2.67,"b":-2.49},{"s":"E130Q","wn":1754.8,"v":-2.77,"b":-2.49},{"s":"E130Q","wn":1753.6,"v":-2.81,"b":-2.49},{"s":"E130Q","wn":1752.4,"v":-2.79,"b":-2.49},{"s":"E130Q","wn":1751.2,"v":-2.67,"b":-2.49},{"s":"E130Q","wn":1750.15,"v":-2.51,"b":-2.49},{"s":"E130Q","wn":1750.0,"v":-2.40,"b":-2.49},{"s":"E130Q","wn":1748.05,"v":-2.40,"b":-2.49},{"s":"E130Q","wn":1747.9,"v":-2.28,"b":-2.49},{"s":"E130Q","wn":1744.9,"v":-2.28,"b":-2.49},
{"s":"E163T","wn":1763.2,"v":-3.34,"b":-3.34},{"s":"E163T","wn":1760.8,"v":-3.36,"b":-3.34},{"s":"E163T","wn":1758.7,"v":-3.42,"b":-3.34},{"s":"E163T","wn":1756.6,"v":-3.52,"b":-3.34},{"s":"E163T","wn":1754.8,"v":-3.62,"b":-3.34},{"s":"E163T","wn":1753.6,"v":-3.66,"b":-3.34},{"s":"E163T","wn":1752.4,"v":-3.64,"b":-3.34},{"s":"E163T","wn":1751.2,"v":-3.52,"b":-3.34},{"s":"E163T","wn":1750.15,"v":-3.36,"b":-3.34},{"s":"E163T","wn":1750.0,"v":-3.25,"b":-3.34},{"s":"E163T","wn":1748.05,"v":-3.25,"b":-3.34},{"s":"E163T","wn":1747.9,"v":-3.13,"b":-3.34},{"s":"E163T","wn":1744.9,"v":-3.13,"b":-3.34},
{"s":"D293N","wn":1763.2,"v":-4.21,"b":-4.21},{"s":"D293N","wn":1760.8,"v":-4.23,"b":-4.21},{"s":"D293N","wn":1758.7,"v":-4.29,"b":-4.21},{"s":"D293N","wn":1756.6,"v":-4.39,"b":-4.21},{"s":"D293N","wn":1754.8,"v":-4.49,"b":-4.21},{"s":"D293N","wn":1753.6,"v":-4.53,"b":-4.21},{"s":"D293N","wn":1752.4,"v":-4.51,"b":-4.21},{"s":"D293N","wn":1751.2,"v":-4.39,"b":-4.21},{"s":"D293N","wn":1750.15,"v":-4.23,"b":-4.21},{"s":"D293N","wn":1750.0,"v":-4.12,"b":-4.21},{"s":"D293N","wn":1748.05,"v":-4.12,"b":-4.21},{"s":"D293N","wn":1747.9,"v":-3.98,"b":-4.21},{"s":"D293N","wn":1744.9,"v":-3.98,"b":-4.21},
{"s":"D196N","wn":1763.2,"v":-5.27,"b":-5.27},{"s":"D196N","wn":1760.8,"v":-5.29,"b":-5.27},{"s":"D196N","wn":1758.7,"v":-5.35,"b":-5.27},{"s":"D196N","wn":1756.6,"v":-5.45,"b":-5.27},{"s":"D196N","wn":1754.8,"v":-5.55,"b":-5.27},{"s":"D196N","wn":1753.6,"v":-5.60,"b":-5.27},{"s":"D196N","wn":1752.4,"v":-5.58,"b":-5.27},{"s":"D196N","wn":1751.2,"v":-5.45,"b":-5.27},{"s":"D196N","wn":1750.15,"v":-5.29,"b":-5.27},{"s":"D196N","wn":1750.0,"v":-5.18,"b":-5.27},{"s":"D196N","wn":1748.05,"v":-5.18,"b":-5.27},{"s":"D196N","wn":1747.9,"v":-5.08,"b":-5.27},{"s":"D196N","wn":1744.9,"v":-5.08,"b":-5.27}
],
"mLines":[
{"s":"wt","wn":1763.2,"v":-1.58},{"s":"wt","wn":1758.7,"v":-1.55},{"s":"wt","wn":1755.1,"v":-1.60},{"s":"wt","wn":1753,"v":-1.65},{"s":"wt","wn":1751.2,"v":-1.66},{"s":"wt","wn":1748.5,"v":-1.61},{"s":"wt","wn":1744.6,"v":-1.54},
{"s":"E130Q","wn":1763.2,"v":-2.43},{"s":"E130Q","wn":1761.7,"v":-2.47},{"s":"E130Q","wn":1759.6,"v":-2.42},{"s":"E130Q","wn":1757.5,"v":-2.47},{"s":"E130Q","wn":1755.7,"v":-2.50},{"s":"E130Q","wn":1753,"v":-2.58},{"s":"E130Q","wn":1751.5,"v":-2.64},{"s":"E130Q","wn":1748.5,"v":-2.63},{"s":"E130Q","wn":1746.7,"v":-2.57},{"s":"E130Q","wn":1745.2,"v":-2.40},
{"s":"E163T","wn":1763.2,"v":-3.35},{"s":"E163T","wn":1761.7,"v":-3.32},{"s":"E163T","wn":1759.6,"v":-3.27},{"s":"E163T","wn":1757.5,"v":-3.32},{"s":"E163T","wn":1755.7,"v":-3.38},{"s":"E163T","wn":1753.6,"v":-3.45},{"s":"E163T","wn":1751.5,"v":-3.53},{"s":"E163T","wn":1749.1,"v":-3.52},{"s":"E163T","wn":1747,"v":-3.42},{"s":"E163T","wn":1745.2,"v":-3.29},{"s":"E163T","wn":1744.6,"v":-3.33},
{"s":"D293N","wn":1763.2,"v":-4.20},{"s":"D293N","wn":1761.7,"v":-4.15},{"s":"D293N","wn":1760.2,"v":-4.17},{"s":"D293N","wn":1758.7,"v":-4.13},{"s":"D293N","wn":1756.6,"v":-4.18},{"s":"D293N","wn":1754.5,"v":-4.23},{"s":"D293N","wn":1752.7,"v":-4.32},{"s":"D293N","wn":1750,"v":-4.35},{"s":"D293N","wn":1748.2,"v":-4.37},{"s":"D293N","wn":1746.1,"v":-4.28},{"s":"D293N","wn":1744.6,"v":-4.18},
{"s":"D196N","wn":1763.2,"v":-5.28},{"s":"D196N","wn":1758.7,"v":-5.27},{"s":"D196N","wn":1754.5,"v":-5.27},{"s":"D196N","wn":1752.7,"v":-5.25},{"s":"D196N","wn":1750.6,"v":-5.18},{"s":"D196N","wn":1748.5,"v":-5.25},{"s":"D196N","wn":1747,"v":-5.32},{"s":"D196N","wn":1745.2,"v":-5.30}
],
"mDash":[{"wn":1753,"v":-1.37,"v2":-6.00}],
"mTemp":[{"t":"260 K","wn":1756.15,"v":-0.71}],
"mPeak":[{"t":"1753","wn":1753,"v":-1.30}]
},
"layer":[
{
"encoding":{
"x":{"field":"wn","type":"quantitative","scale":{"domain":[1579.35,1787.25],"reverse":true,"nice":false,"zero":false},"axis":{"orient":"bottom","offset":-67,"values":[1770,1750,1730,1710],"format":",d","domain":false,"grid":false,"ticks":true,"tickSize":6,"tickWidth":2.5,"tickColor":"#000","labelFont":"Liberation Serif","labelFontWeight":"bold","labelFontSize":15,"labelColor":"#000","labelPadding":0,"labelFlush":false,"labelOverlap":false,"title":null}},
"y":{"field":"v","type":"quantitative","scale":{"domain":[-7.06,0],"nice":false,"zero":false},"axis":null}
},
"layer":[
{"data":{"name":"aSep"},"mark":{"type":"rule","strokeWidth":2.5,"color":"#000"},"encoding":{"y2":{"field":"v2"}}},
{"data":{"name":"aBox"},"mark":{"type":"rect","fill":"#f8d7a6"},"encoding":{"x2":{"field":"wn2"},"y2":{"field":"v2"}}},
{"data":{"name":"aGray"},"mark":{"type":"area","interpolate":"monotone","fill":"#c3c3c3"},"encoding":{"y2":{"field":"b"},"detail":{"field":"s"}}},
{"data":{"name":"aRed"},"mark":{"type":"area","interpolate":"monotone","fill":"#f43a3a"},"encoding":{"y2":{"field":"b"}}},
{"data":{"name":"aDash"},"mark":{"type":"rule","strokeDash":[7,5],"strokeWidth":1.6,"color":"#111"},"encoding":{"y2":{"field":"v2"}}},
{"data":{"name":"aLines"},"mark":{"type":"line","interpolate":"monotone","strokeWidth":3,"opacity":0.88,"strokeCap":"round"},"encoding":{"color":{"field":"s","type":"nominal","scale":{"domain":["wt","E130Q","E163T","D293N","D196N"],"range":["#454545","#ef5050","#4646ee","#149a48","#b148ba"]},"legend":null}}},
{"data":{"name":"aLeg"},"mark":{"type":"rect","opacity":0.9},"encoding":{"x2":{"field":"wn2"},"y2":{"field":"v2"},"color":{"field":"s","type":"nominal","scale":{"domain":["wt","E130Q","E163T","D293N","D196N"],"range":["#454545","#ef5050","#4646ee","#149a48","#b148ba"]},"legend":null}}},
{"data":{"name":"aLegText"},"mark":{"type":"text","font":"Liberation Serif","fontSize":15,"fontWeight":"bold","align":"left","baseline":"alphabetic","color":"#111"},"encoding":{"text":{"field":"t"}}},
{"data":{"name":"aBig"},"mark":{"type":"text","font":"Liberation Serif","fontSize":34,"align":"left","baseline":"alphabetic","color":"#000"},"encoding":{"text":{"field":"t"}}},
{"data":{"name":"aTemp"},"mark":{"type":"text","font":"Liberation Serif","fontSize":22,"fontWeight":"bold","align":"center","baseline":"alphabetic","color":"#3a2204"},"encoding":{"text":{"field":"t"}}},
{"data":{"name":"aE130"},"mark":{"type":"text","font":"Liberation Serif","fontSize":16,"fontWeight":"bold","align":"left","baseline":"alphabetic","color":"#000"},"encoding":{"text":{"field":"t"}}},
{"data":{"name":"aPeak"},"mark":{"type":"text","font":"Liberation Serif","fontSize":19,"align":"center","baseline":"alphabetic","color":"#000"},"encoding":{"text":{"field":"t"}}},
{"data":{"name":"aScale"},"mark":{"type":"text","font":"Liberation Serif","fontSize":17,"fontWeight":"bold","align":"center","baseline":"alphabetic","color":"#000"},"encoding":{"text":{"field":"t"}}},
{"data":{"name":"aNote"},"mark":{"type":"text","font":"Liberation Serif","fontSize":15,"fontWeight":"bold","align":"center","baseline":"alphabetic","color":"#000"},"encoding":{"text":{"field":"t"}}},
{"data":{"name":"aAxis"},"mark":{"type":"rule","strokeWidth":3.5,"color":"#000"},"encoding":{"x2":{"field":"wn2"}}},
{"data":{"name":"aArrow"},"mark":{"type":"rule","strokeWidth":2,"color":"#e3141c"},"encoding":{"x2":{"field":"wn2"},"y2":{"field":"v2"}}},
{"data":{"name":"aHead"},"mark":{"type":"point","shape":"triangle-up","angle":52,"size":55,"filled":true,"color":"#e3141c","opacity":1}}
]
},
{
"encoding":{
"x":{"field":"wn","type":"quantitative","scale":{"domain":[1693.08,1898.9],"reverse":true,"nice":false,"zero":false},"axis":{"orient":"bottom","offset":-67,"values":[1770,1750,1730,1710],"format":",d","domain":false,"grid":false,"ticks":true,"tickSize":6,"tickWidth":2.5,"tickColor":"#000","labelFont":"Liberation Serif","labelFontWeight":"bold","labelFontSize":15,"labelColor":"#000","labelPadding":0,"labelFlush":false,"labelOverlap":false,"title":null}},
"y":{"field":"v","type":"quantitative","scale":{"domain":[-7.06,0],"nice":false,"zero":false},"axis":null}
},
"layer":[
{"data":{"name":"bBox"},"mark":{"type":"rect","fill":"#f8d7a6"},"encoding":{"x2":{"field":"wn2"},"y2":{"field":"v2"}}},
{"data":{"name":"bBase"},"mark":{"type":"rule","strokeWidth":1.5,"color":"#c3c3c3"},"encoding":{"x2":{"field":"wn2"}}},
{"data":{"name":"bGray"},"mark":{"type":"area","interpolate":"monotone","fill":"#c3c3c3"},"encoding":{"y2":{"field":"b"},"detail":{"field":"s"}}},
{"data":{"name":"bPurple"},"mark":{"type":"area","interpolate":"monotone","fill":"#a23fb0"},"encoding":{"y2":{"field":"b"}}},
{"data":{"name":"bGreen"},"mark":{"type":"area","interpolate":"monotone","fill":"#149c3c"},"encoding":{"y2":{"field":"b"}}},
{"data":{"name":"bRed"},"mark":{"type":"area","interpolate":"monotone","fill":"#f43a3a"},"encoding":{"y2":{"field":"b"}}},
{"data":{"name":"bDash"},"mark":{"type":"rule","strokeDash":[7,5],"strokeWidth":1.6,"color":"#111"},"encoding":{"y2":{"field":"v2"}}},
{"data":{"name":"bLines"},"mark":{"type":"line","interpolate":"monotone","strokeWidth":3,"opacity":0.88,"strokeCap":"round"},"encoding":{"color":{"field":"s","type":"nominal","scale":{"domain":["wt","E130Q","E163T","D293N","D196N"],"range":["#454545","#ef5050","#4646ee","#149a48","#b148ba"]},"legend":null}}},
{"data":{"name":"bTicks"},"mark":{"type":"rule","strokeWidth":1.5,"color":"#000"},"encoding":{"y2":{"field":"v2"}}},
{"data":{"name":"bBig"},"mark":{"type":"text","font":"Liberation Serif","fontSize":34,"align":"left","baseline":"alphabetic","color":"#000"},"encoding":{"text":{"field":"t"}}},
{"data":{"name":"bTemp"},"mark":{"type":"text","font":"Liberation Serif","fontSize":22,"fontWeight":"bold","align":"center","baseline":"alphabetic","color":"#3a2204"},"encoding":{"text":{"field":"t"}}},
{"data":{"name":"bRef"},"mark":{"type":"text","font":"Liberation Serif","fontSize":16,"fontWeight":"bold","align":"center","baseline":"alphabetic","color":"#000"},"encoding":{"text":{"field":"t"}}},
{"data":{"name":"bPeak"},"mark":{"type":"text","font":"Liberation Serif","fontSize":19,"align":"center","baseline":"alphabetic","color":"#000"},"encoding":{"text":{"field":"t"}}},
{"data":{"name":"bNote"},"mark":{"type":"text","font":"Liberation Serif","fontSize":15,"fontWeight":"bold","align":"center","baseline":"alphabetic","color":"#000"},"encoding":{"text":{"field":"t"}}},
{"data":{"name":"bAxis"},"mark":{"type":"rule","strokeWidth":3.5,"color":"#000"},"encoding":{"x2":{"field":"wn2"}}},
{"data":{"name":"bArrow"},"mark":{"type":"rule","strokeWidth":2,"color":"#e3141c"},"encoding":{"x2":{"field":"wn2"},"y2":{"field":"v2"}}},
{"data":{"name":"bHead"},"mark":{"type":"point","shape":"triangle-up","angle":113,"size":55,"filled":true,"color":"#e3141c","opacity":1}}
]
},
{
"encoding":{
"x":{"field":"wn","type":"quantitative","scale":{"domain":[1650.7,1858.6],"reverse":true,"nice":false,"zero":false},"axis":null},
"y":{"field":"v","type":"quantitative","scale":{"domain":[-7.06,0],"nice":false,"zero":false},"axis":null}
},
"layer":[
{"data":{"name":"mBox"},"mark":{"type":"rect","fill":"#fff","stroke":"#000","strokeWidth":2},"encoding":{"x2":{"field":"wn2"},"y2":{"field":"v2"}}},
{"data":{"name":"mHi"},"mark":{"type":"rect","fill":"#f8d7a6"},"encoding":{"x2":{"field":"wn2"},"y2":{"field":"v2"}}},
{"data":{"name":"mGray"},"mark":{"type":"area","interpolate":"linear","fill":"#c3c3c3"},"encoding":{"y2":{"field":"b"},"detail":{"field":"s"}}},
{"data":{"name":"mDash"},"mark":{"type":"rule","strokeDash":[7,5],"strokeWidth":1.6,"color":"#111"},"encoding":{"y2":{"field":"v2"}}},
{"data":{"name":"mLines"},"mark":{"type":"line","interpolate":"monotone","strokeWidth":3,"opacity":0.88,"strokeCap":"round"},"encoding":{"color":{"field":"s","type":"nominal","scale":{"domain":["wt","E130Q","E163T","D293N","D196N"],"range":["#454545","#ef5050","#4646ee","#149a48","#b148ba"]},"legend":null}}},
{"data":{"name":"mTemp"},"mark":{"type":"text","font":"Liberation Serif","fontSize":22,"fontWeight":"bold","align":"center","baseline":"alphabetic","color":"#3a2204"},"encoding":{"text":{"field":"t"}}},
{"data":{"name":"mPeak"},"mark":{"type":"text","font":"Liberation Serif","fontSize":19,"align":"center","baseline":"alphabetic","color":"#000"},"encoding":{"text":{"field":"t"}}}
]
}
],
"resolve":{"scale":{"x":"independent"}}
}
